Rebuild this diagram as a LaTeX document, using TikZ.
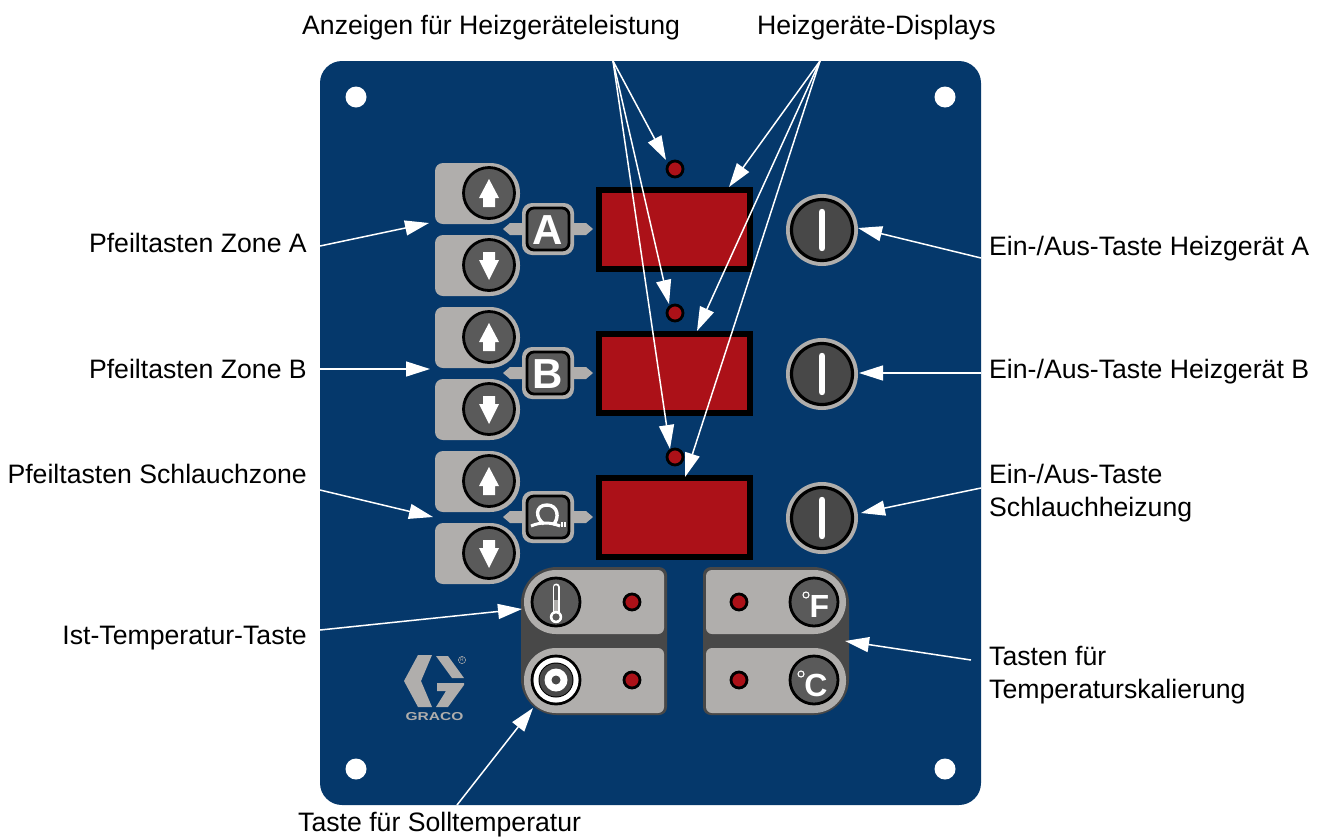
\documentclass[tikz,border=0pt]{standalone}
\usepackage{fontspec}
\setmainfont{Liberation Sans}
\usepackage{tikz}
\usetikzlibrary{arrows.meta}

\definecolor{panelblue}{HTML}{05386B}
\definecolor{keygrey}{HTML}{B0AEAC}
\definecolor{capgrey}{HTML}{5A5A5A}
\definecolor{backgrey}{HTML}{484848}
\definecolor{ledred}{HTML}{AC1118}

\begin{document}
\begin{tikzpicture}[
  x=1pt,y=-1pt,
  lead/.style={draw=white,line width=1.5pt,-{Triangle[length=24pt,width=15pt,fill=white]}},
  label/.style={font=\fontsize{26.65}{33}\selectfont,inner sep=0pt,text=black},
  keycap/.style={fill=capgrey,draw=black,line width=2.8pt},
  powercap/.style={fill=backgrey,draw=black,line width=3.2pt},
  keytext/.style={font=\fontsize{32}{32}\selectfont\bfseries,text=white,inner sep=0pt},
  bigtext/.style={font=\fontsize{42}{42}\selectfont\bfseries,text=white,inner sep=0pt},
  led/.style={fill=ledred,draw=black,line width=2.8pt}
]
  \useasboundingbox (0,0) rectangle (1327,836);
  \def\rowstep{144}

  \fill[panelblue,rounded corners=22pt] (320,61) rectangle (981,805);
  \foreach \x in {356,945}{
    \foreach \y in {97,769}{
      \fill[white] (\x,\y) circle[radius=10.5];
    }
  }

  % three rows of zone keys, display, power key
  \foreach \row in {0,1,2}{
    \pgfmathsetmacro{\dy}{\row*\rowstep}
    \begin{scope}[yshift=-\dy pt]
      \fill[keygrey] (435,190) [rounded corners=8pt] -- (435,163) [rounded corners=30pt] -- (520,163) -- (520,224) [rounded corners=8pt] -- (435,224) -- cycle;
      \fill[keygrey] (435,265) [rounded corners=8pt] -- (435,235) [rounded corners=30pt] -- (520,235) -- (520,296) [rounded corners=8pt] -- (435,296) -- cycle;
      \draw[keycap] (489,193) circle[radius=25.5];
      \draw[keycap] (489,265) circle[radius=25.5];
      \fill[white] (489,179) -- (499,198) -- (495,198) -- (495,207) -- (483,207) -- (483,198) -- (479,198) -- cycle;
      \fill[white] (489,280) -- (499,260) -- (495,260) -- (495,252) -- (483,252) -- (483,260) -- (479,260) -- cycle;

      \fill[keygrey] (503,229) -- (510,223) -- (525,223) -- (525,235) -- (510,235) -- cycle;
      \fill[keygrey] (593,229) -- (586,223) -- (571,223) -- (571,235) -- (586,235) -- cycle;
      \fill[keygrey,rounded corners=10pt] (522,203) rectangle (574,255);
      \draw[keycap,rounded corners=7pt] (527,208) rectangle (569,250);

      \fill[black] (596,187) rectangle (753,272);
      \fill[ledred] (602,193) rectangle (747,266);
      \draw[led] (675,169) circle[radius=8];

      \fill[keygrey] (822,230) circle[radius=36];
      \draw[powercap] (822,230) circle[radius=30.5];
      \draw[white,line width=6.4pt,line cap=round] (822,212) -- (822,248);
    \end{scope}
  }

  \node[bigtext] (letterA) at (548,230) {A};
  \node[bigtext] (letterB) at (548,374) {B};

  % hose symbol
  \draw[white,line width=3.4pt] (544,524) .. controls (535,518) and (535,505) .. (547,505) .. controls (558,505) and (560,518) .. (553,525);
  \draw[white,line width=3pt] (531,526) .. controls (540,522) and (550,522) .. (560,526);
  \draw[white,line width=1.2pt] (562,522) -- (562,527);
  \draw[white,line width=1.2pt] (565,522) -- (565,527);

  % set point and scale key blocks
  \fill[backgrey] (600,567) [rounded corners=8pt] -- (667,567) -- (667,715) [rounded corners=36pt] -- (521,715) -- (521,567) -- cycle;
  \fill[backgrey] (770,567) [rounded corners=8pt] -- (703,567) -- (703,715) [rounded corners=36pt] -- (849,715) -- (849,567) -- cycle;
  \foreach \y/\yy in {570/634,648/713}{
    \fill[keygrey] (600,\y) [rounded corners=6pt] -- (664,\y) -- (664,\yy) [rounded corners=32pt] -- (524,\yy) -- (524,\y) -- cycle;
    \fill[keygrey] (770,\y) [rounded corners=6pt] -- (706,\y) -- (706,\yy) [rounded corners=32pt] -- (846,\yy) -- (846,\y) -- cycle;
  }
  \foreach \x/\y in {632/602,632/680,739/602,739/680}{
    \draw[led] (\x,\y) circle[radius=8];
  }
  \foreach \x/\y in {556/602,556/680,814/602,814/680}{
    \draw[keycap] (\x,\y) circle[radius=24];
  }

  % thermometer
  \draw[white,line width=7pt,line cap=round] (556,587) -- (556,614);
  \draw[capgrey,line width=3.4pt,line cap=round] (556,587) -- (556,600);
  \draw[keygrey,line width=3.4pt] (556,600) -- (556,614);
  \fill[white] (556,617) circle[radius=6.2];
  \fill[capgrey] (556,617) circle[radius=3.6];

  % set point symbol
  \fill[white] (556,680) circle[radius=22.5];
  \fill[black] (556,680) circle[radius=17.5];
  \fill[backgrey] (556,680) circle[radius=16.5];
  \fill[white] (556,680) circle[radius=11.5];
  \fill[backgrey] (556,680) circle[radius=4.5];

  \node[keytext] (letterF) at (819.5,606.5) {F};
  \node[keytext] (letterC) at (816,685) {C};
  \draw[white,line width=1.1pt] (806,595) circle[radius=3];
  \draw[white,line width=1.1pt] (801,674) circle[radius=3];

  % logo
  \fill[keygrey] (418,655) -- (432,655) -- (421,681) -- (432,707) -- (418,707) -- (404,681) -- cycle;
  \fill[keygrey] (436,656) -- (448,656) -- (464,678) -- (452,678) -- cycle;
  \fill[keygrey] (437,683) -- (464,683) -- (464,685) -- (448,707) -- (436,707) -- (446,691) -- (437,691) -- cycle;
  \node[font=\fontsize{11.5}{11.5}\selectfont\bfseries,text=keygrey,inner sep=0pt] (logotext) at (434.5,717) {\scalebox{1.35}[1]{GRACO}};
  \draw[keygrey,line width=0.5pt] (462,660) circle[radius=3.6];
  \node[font=\fontsize{5}{5}\selectfont,text=keygrey,inner sep=0pt] (logomark) at (462,660) {R};

  % labels
  \node[label,anchor=base west] (power) at (302,34) {Anzeigen für Heizgeräteleistung};
  \node[label,anchor=base west] (displays) at (757,34) {Heizgeräte-Displays};
  \node[label,anchor=base east] (zoneA) at (307,252) {Pfeiltasten Zone A};
  \node[label,anchor=base east] (zoneB) at (307,378) {Pfeiltasten Zone B};
  \node[label,anchor=base east] (zoneH) at (307,483) {Pfeiltasten Schlauchzone};
  \node[label,anchor=base east] (actual) at (307,644) {Ist-Temperatur-Taste};
  \node[label,anchor=base west] (setpoint) at (298,831) {Taste für Solltemperatur};
  \node[label,anchor=base west] (heatA) at (989,255) {Ein-/Aus-Taste Heizgerät A};
  \node[label,anchor=base west] (heatB) at (989,378) {Ein-/Aus-Taste Heizgerät B};
  \node[label,anchor=west,align=left] (heatH) at (989,493) {Ein-/Aus-Taste\\Schlauchheizung};
  \node[label,anchor=west,align=left] (scale) at (989,675) {Tasten für\\Temperaturskalierung};

  % leaders
  \coordinate (powerS) at (613,61);
  \coordinate (displayS) at (820,61);
  \coordinate (ledA) at (666,160);
  \coordinate (ledB) at (669,304);
  \coordinate (ledH) at (670,449);
  \coordinate (dispA) at (729,187);
  \coordinate (dispB) at (697,331);
  \coordinate (dispH) at (685,477);
  \draw[lead] (powerS) -- (ledA);
  \draw[lead] (powerS) -- (ledB);
  \draw[lead] (powerS) -- (ledH);
  \draw[lead] (displayS) -- (dispA);
  \draw[lead] (displayS) -- (dispB);
  \draw[lead] (displayS) -- (dispH);

  \foreach \name/\sx/\sy/\ex/\ey in {
    A/320/246/429/223,
    B/320/369/430/369,
    C/320/490/433/517,
    D/320/630/522/609,
    E/457/805/533/708,
    F/981/258/858/228,
    G/981/373/859/373,
    H/981/488/861/513,
    I/971/660/845/641}{
    \coordinate (from\name) at (\sx,\sy);
    \coordinate (to\name) at (\ex,\ey);
    \draw[lead] (from\name) -- (to\name);
  }
\end{tikzpicture}
\end{document}
